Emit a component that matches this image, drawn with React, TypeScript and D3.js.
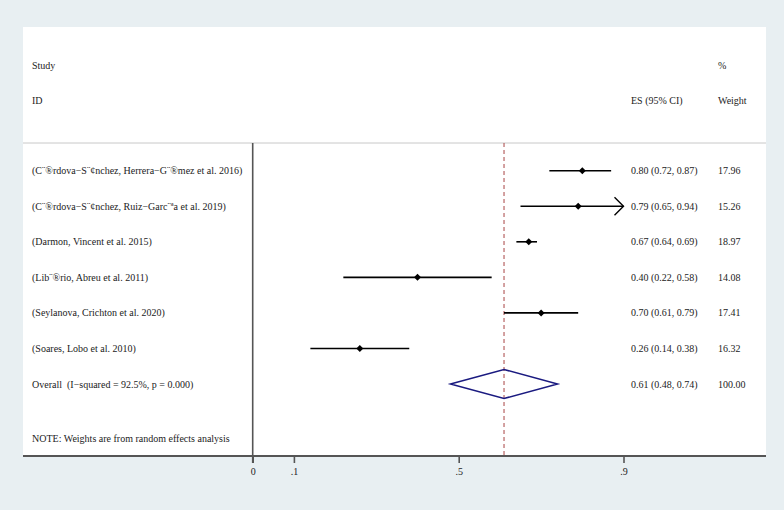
import React, { useEffect, useRef } from 'react';
import * as d3 from 'd3';

const studies = [
  '(C\u00a8\u00aerdova\u2212S\u00a8\u00a2nchez, Herrera\u2212G\u00a8\u00aemez et al. 2016)',
  '(C\u00a8\u00aerdova\u2212S\u00a8\u00a2nchez, Ruiz\u2212Garc\u00a8\u00aaa et al. 2019)',
  '(Darmon, Vincent et al. 2015)',
  '(Lib\u00a8\u00aerio, Abreu et al. 2011)',
  '(Seylanova, Crichton et al. 2020)',
  '(Soares, Lobo et al. 2010)',
];
const es = [0.8, 0.79, 0.67, 0.4, 0.7, 0.26];
const lower = [0.72, 0.65, 0.64, 0.22, 0.61, 0.14];
const upper = [0.87, 0.94, 0.69, 0.58, 0.79, 0.38];
const weights = ['17.96', '15.26', '18.97', '14.08', '17.41', '16.32'];

const overallLabel = 'Overall  (I\u2212squared = 92.5%, p = 0.000)';
const overall = { es: 0.61, lo: 0.48, hi: 0.74, weight: '100.00' };
const note = 'NOTE: Weights are from random effects analysis';
const tickValues = [0, 0.1, 0.5, 0.9];
const tickLabels = ['0', '.1', '.5', '.9'];

const W = 784;
const H = 510;

const App = () => {
  const ref = useRef<SVGSVGElement>(null);

  useEffect(() => {
    const svg = d3.select(ref.current);
    svg.selectAll('*').remove();

    const font = '"Liberation Serif", "Times New Roman", serif';
    const panel = { left: 23, right: 766, top: 27, bottom: 456 };
    const headerLine = 143;

    svg.append('rect').attr('width', W).attr('height', H).attr('fill', '#e8eff2');
    svg.append('rect')
      .attr('x', panel.left).attr('y', panel.top)
      .attr('width', panel.right - panel.left).attr('height', panel.bottom - panel.top)
      .attr('fill', '#ffffff');

    const x = d3.scaleLinear().domain([0, 0.9]).range([252.7, 623.5]);
    const rows = [...studies.map((_, i) => i), 'overall'];
    const y = d3.scalePoint<any>().domain(rows).range([170.7, 384]);

    // header
    const hdr = svg.append('g').attr('font-family', font).attr('font-size', 10).attr('fill', '#222');
    hdr.append('text').attr('x', 32).attr('y', 68.5).text('Study');
    hdr.append('text').attr('x', 32).attr('y', 103.5).text('ID');
    hdr.append('text').attr('x', 718).attr('y', 68.5).text('%');
    hdr.append('text').attr('x', 631).attr('y', 103.5).text('ES (95% CI)');
    hdr.append('text').attr('x', 718).attr('y', 103.5).text('Weight');

    svg.append('line')
      .attr('x1', panel.left).attr('x2', panel.right)
      .attr('y1', headerLine).attr('y2', headerLine)
      .attr('stroke', '#c8c8c8').attr('stroke-width', 1);

    // no-effect line and overall line
    svg.append('line')
      .attr('x1', x(0)).attr('x2', x(0))
      .attr('y1', headerLine).attr('y2', panel.bottom + 7)
      .attr('stroke', '#555').attr('stroke-width', 1.6);
    svg.append('line')
      .attr('x1', x(overall.es)).attr('x2', x(overall.es))
      .attr('y1', headerLine).attr('y2', panel.bottom)
      .attr('stroke', '#b05555').attr('stroke-width', 1.1)
      .attr('stroke-dasharray', '4,3');

    const xMax = x.domain()[1];
    const g = svg.append('g');
    studies.forEach((s, i) => {
      const yy = y(i)!;
      const hi = Math.min(upper[i], xMax);
      g.append('line')
        .attr('x1', x(lower[i])).attr('x2', x(hi))
        .attr('y1', yy).attr('y2', yy)
        .attr('stroke', '#000').attr('stroke-width', 1.6);
      if (upper[i] > xMax) {
        const tip = x(xMax);
        g.append('path')
          .attr('d', `M${tip - 9},${yy - 9}L${tip},${yy}L${tip - 9},${yy + 9}`)
          .attr('fill', 'none').attr('stroke', '#000').attr('stroke-width', 1.4);
      }
      const px = x(es[i]);
      g.append('path')
        .attr('d', `M${px},${yy - 3.5}L${px + 3.5},${yy}L${px},${yy + 3.5}L${px - 3.5},${yy}Z`)
        .attr('fill', '#000');

      const t = g.append('g').attr('font-family', font).attr('font-size', 10).attr('fill', '#222');
      t.append('text').attr('x', 32).attr('y', yy + 3.5).text(s);
      t.append('text').attr('x', 631).attr('y', yy + 3.5)
        .text(`${es[i].toFixed(2)} (${lower[i].toFixed(2)}, ${upper[i].toFixed(2)})`);
      t.append('text').attr('x', 718).attr('y', yy + 3.5).text(weights[i]);
    });

    // overall diamond
    const oy = y('overall')!;
    svg.append('path')
      .attr('d', `M${x(overall.lo)},${oy}L${x(overall.es)},${oy - 14.5}L${x(overall.hi)},${oy}L${x(overall.es)},${oy + 14.5}Z`)
      .attr('fill', 'none').attr('stroke', '#1a1a80').attr('stroke-width', 1.5);
    const ot = svg.append('g').attr('font-family', font).attr('font-size', 10).attr('fill', '#222');
    ot.append('text').attr('x', 32).attr('y', oy + 3.5)
      .style('white-space', 'pre').text(overallLabel);
    ot.append('text').attr('x', 631).attr('y', oy + 3.5)
      .text(`${overall.es.toFixed(2)} (${overall.lo.toFixed(2)}, ${overall.hi.toFixed(2)})`);
    ot.append('text').attr('x', 718).attr('y', oy + 3.5).text(overall.weight);
    ot.append('text').attr('x', 32).attr('y', 441.5).text(note);

    // x axis
    svg.append('line')
      .attr('x1', panel.left).attr('x2', panel.right)
      .attr('y1', panel.bottom).attr('y2', panel.bottom)
      .attr('stroke', '#555').attr('stroke-width', 1.8);
    const axis = svg.append('g')
      .attr('transform', `translate(0,${panel.bottom})`)
      .call(d3.axisBottom(x).tickValues(tickValues).tickSize(7).tickPadding(5)
        .tickFormat((_, i) => tickLabels[i]));
    axis.select('.domain').remove();
    axis.selectAll('line').attr('stroke', '#555').attr('stroke-width', 1.6);
    axis.selectAll('text').attr('font-family', font).attr('font-size', 10).attr('fill', '#222');
  }, []);

  return (
    <svg ref={ref} width={W} height={H}
      style={{ position: 'absolute', left: 0, top: 0, display: 'block' }} />
  );
};

export default App;
